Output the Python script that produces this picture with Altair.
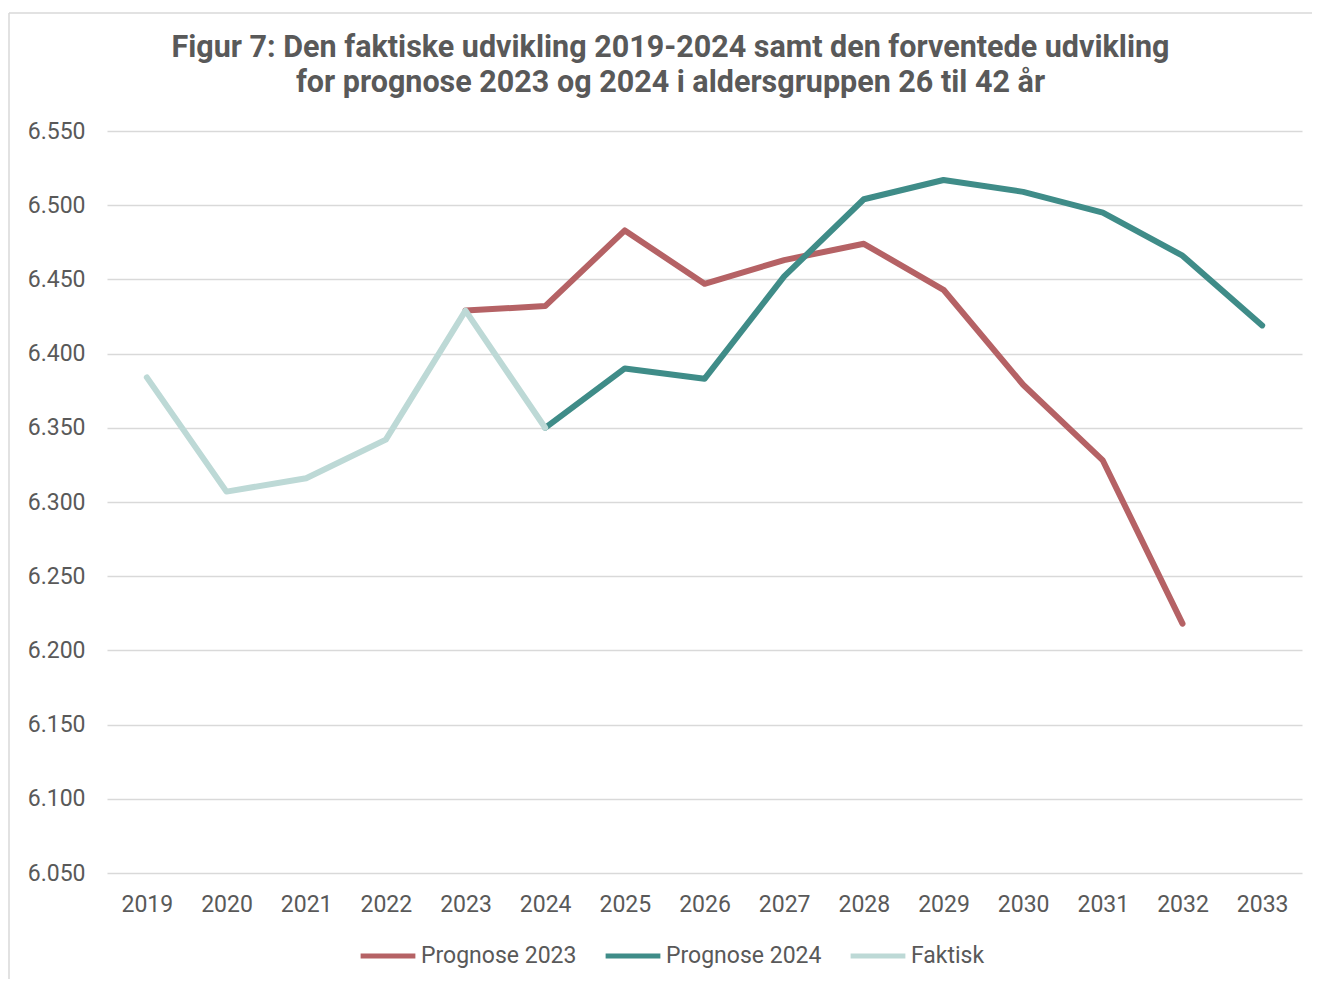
import altair as alt
import pandas as pd

years = [str(y) for y in range(2019, 2034)]
faktisk = [6.384, 6.307, 6.316, 6.342, 6.429, 6.350, None, None, None, None, None, None, None, None, None]
prognose_2023 = [None, None, None, None, 6.429, 6.432, 6.483, 6.447, 6.463, 6.474, 6.443, 6.379, 6.328, 6.218, None]
prognose_2024 = [None, None, None, None, None, 6.350, 6.390, 6.383, 6.452, 6.504, 6.517, 6.509, 6.495, 6.466, 6.419]

series_names = ["Prognose 2023", "Prognose 2024", "Faktisk"]
series_colors = ["#b56265", "#3f8c88", "#bdd9d6"]
y_ticks = [6.05, 6.1, 6.15, 6.2, 6.25, 6.3, 6.35, 6.4, 6.45, 6.5, 6.55]

rows = []
for name, vals in zip(series_names, [prognose_2023, prognose_2024, faktisk]):
    for yr, v in zip(years, vals):
        if v is not None:
            rows.append({"year": yr, "value": v, "series": name})
df = pd.DataFrame(rows)

FONT = "Roboto"
GRAY = "#595959"

color = alt.Color(
    "series:N",
    scale=alt.Scale(domain=series_names, range=series_colors),
    sort=series_names,
    legend=alt.Legend(
        title=None,
        orient="none",
        direction="horizontal",
        legendX=251,
        legendY=795,
        symbolType="stroke",
        symbolSize=3000,
        symbolStrokeWidth=5,
        labelFont=FONT,
        labelFontSize=23,
        labelColor=GRAY,
        labelOffset=3,
        columnPadding=18,
    ),
)

base = alt.Chart(df).encode(
    x=alt.X(
        "year:O",
        sort=years,
        scale=alt.Scale(domain=years, paddingOuter=0.5),
        axis=alt.Axis(
            title=None, labelAngle=0, ticks=False, domain=False,
            labelFont=FONT, labelFontSize=23, labelColor=GRAY, labelPadding=20,
        ),
    ),
    y=alt.Y(
        "value:Q",
        scale=alt.Scale(domain=[6.05, 6.55], nice=False, zero=False),
        axis=alt.Axis(
            title=None, values=y_ticks, format=".3f", ticks=False, domain=False,
            labelFont=FONT, labelFontSize=23, labelColor=GRAY, labelPadding=22,
            gridColor="#d9d9d9", gridWidth=1.5,
        ),
    ),
    color=color,
)

layers = [
    base.transform_filter(alt.datum.series == name).mark_line(strokeWidth=6, strokeCap="round", strokeJoin="round")
    for name in series_names
]

frame = alt.Chart(pd.DataFrame({"a": [0]})).mark_rule(color="#d9d9d9", strokeWidth=1.5).encode(
    x=alt.value(-98), x2=alt.value(1212), y=alt.value(-118)
)
frame_left = alt.Chart(pd.DataFrame({"a": [0]})).mark_rule(color="#d9d9d9", strokeWidth=1.5).encode(
    x=alt.value(-98), y=alt.value(-118), y2=alt.value(850)
)

chart = alt.layer(frame, frame_left, *layers).properties(
    width=1195,
    height=742,
    autosize=alt.AutoSizeParams(type="none"),
    padding={"left": 99, "top": 123, "right": 10, "bottom": 106},
    title=alt.TitleParams(
        text=["Figur 7: Den faktiske udvikling 2019-2024 samt den forventede udvikling",
              "for prognose 2023 og 2024 i aldersgruppen 26 til 42 år"],
        font=FONT, fontSize=30.5, fontWeight="bold", color=GRAY,
        anchor="middle", dx=-34, dy=86, offset=0, lineHeight=35,
    ),
).configure(background="white", view=alt.ViewConfig(stroke="transparent"))

chart.save("out.html", embed_options={"renderer": "svg", "actions": False})
